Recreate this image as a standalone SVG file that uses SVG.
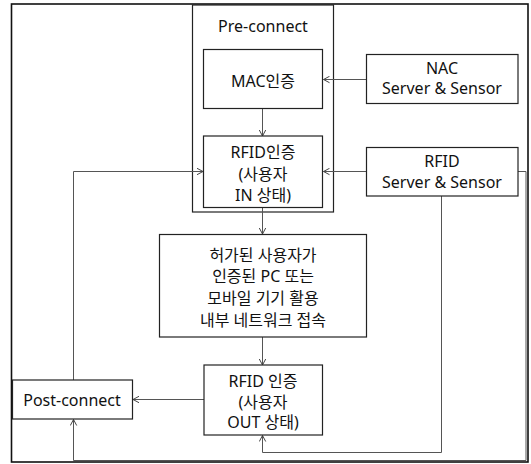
<svg xmlns="http://www.w3.org/2000/svg" width="531" height="464" viewBox="0 0 531 464">
<defs>
<marker id="arr" markerWidth="8" markerHeight="8" refX="7" refY="4" orient="auto" markerUnits="userSpaceOnUse">
<path d="M1,0.8 L7,4 L1,7.2" fill="none" stroke="#444" stroke-width="1"/>
</marker>
<style>
.box{fill:#fff;stroke:#222;stroke-width:1.2}
.frame{fill:none;stroke:#111;stroke-width:1.6}
.t{font-family:"Noto Sans","Noto Sans CJK KR",sans-serif;font-size:16px;fill:#111;text-anchor:middle}
.c{fill:none;stroke:#555;stroke-width:1}
.ca{fill:none;stroke:#555;stroke-width:1;marker-end:url(#arr)}
</style>
</defs>
<rect width="531" height="464" fill="#fff"/>
<rect class="frame" x="11.5" y="4" width="516.5" height="458"/>
<g id="preconnect">
<rect class="box" x="192.5" y="5" width="141" height="207"/>
<text class="t" x="263" y="31.5">Pre-connect</text>
</g>
<g id="connectors">
<path class="ca" d="M366,79.5 H323.5"/>
<path class="ca" d="M262.5,108.5 V136"/>
<path class="ca" d="M366,171.5 H323.5"/>
<path class="ca" d="M73.5,380 V171.5 H203"/>
<path class="ca" d="M262.5,207.5 V234"/>
<path class="ca" d="M262.5,337 V365"/>
<path class="ca" d="M204,399.5 H133"/>
<path class="ca" d="M441.5,196 V452.5 H262.5 V435.5"/>
<path class="ca" d="M518,171.5 H526 V460.5 H73.5 V419.5"/>
</g>
<g id="mac">
<rect class="box" x="203.5" y="49.5" width="119" height="59"/>
<text class="t" x="263" y="87">MAC인증</text>
</g>
<g id="nac">
<rect class="box" x="366.5" y="54.5" width="151.5" height="49"/>
<text class="t" x="442" y="74">NAC</text>
<text class="t" x="442" y="94">Server &amp; Sensor</text>
</g>
<g id="rfid-in">
<rect class="box" x="203.5" y="136" width="119" height="71.5"/>
<text class="t" x="263" y="158">RFID인증</text>
<text class="t" x="263" y="179.5">(사용자</text>
<text class="t" x="263" y="200.5">IN 상태)</text>
</g>
<g id="rfid-server">
<rect class="box" x="366.5" y="147.5" width="151.5" height="48.5"/>
<text class="t" x="442" y="167">RFID</text>
<text class="t" x="442" y="187.5">Server &amp; Sensor</text>
</g>
<g id="access">
<rect class="box" x="159.5" y="234.5" width="207" height="102.5"/>
<text class="t" x="263" y="260.5">허가된 사용자가</text>
<text class="t" x="263" y="282">인증된 PC 또는</text>
<text class="t" x="263" y="304">모바일 기기 활용</text>
<text class="t" x="263" y="325.5">내부 네트워크 접속</text>
</g>
<g id="rfid-out">
<rect class="box" x="204" y="365" width="118.5" height="70"/>
<text class="t" x="263" y="386.5">RFID 인증</text>
<text class="t" x="263" y="407.5">(사용자</text>
<text class="t" x="263" y="428">OUT 상태)</text>
</g>
<g id="postconnect">
<rect class="box" x="12.5" y="380" width="120" height="39"/>
<text class="t" x="72" y="405.5">Post-connect</text>
</g>
</svg>
